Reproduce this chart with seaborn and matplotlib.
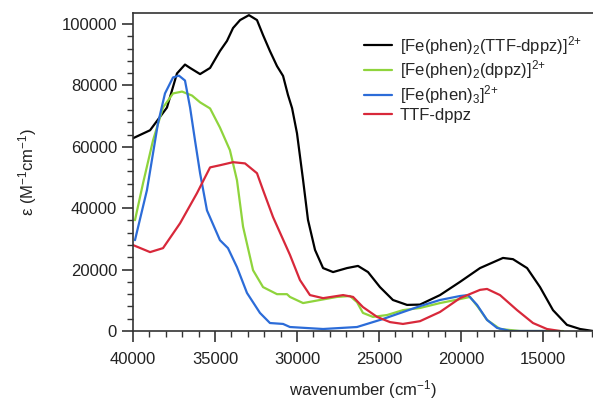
#UV-vis absorption spectra of the Fe(phen) complexes and TTF-dppz
import pandas as pd
import matplotlib
matplotlib.use('Agg')
import matplotlib.pyplot as plt
import seaborn as sns
from matplotlib.ticker import MultipleLocator

#values (wavenumber in cm-1, epsilon in M-1 cm-1)
black_x = [40000, 38960, 37930, 37320, 36830, 36520, 35910, 35300, 34700, 34270, 33900,
           33470, 32930, 32440, 32070, 31650, 31220, 30850, 30550, 30300, 30000, 29630,
           29330, 28900, 28410, 27800, 26950, 26280, 25670, 24940, 24150, 23290, 22500,
           21280, 20060, 18840, 17440, 16830, 15970, 15180, 14390, 13540, 12740, 11950]
black_y = [62800, 65400, 72800, 83900, 86800, 85700, 83700, 85700, 91200, 94500, 98700,
           101300, 102900, 101300, 96400, 91200, 86300, 83100, 76900, 72600, 64400, 49200,
           36200, 26400, 20500, 19200, 20500, 21200, 19200, 14300, 10100, 8500, 8600,
           11700, 16000, 20500, 23800, 23400, 20500, 14300, 6800, 2000, 650, 0]

green_x = [39880, 39390, 38780, 38170, 37560, 37010, 36400, 35910, 35300, 34700, 34090,
           33660, 33290, 32680, 32070, 31220, 30610, 30430, 29630, 28600, 27560, 26770,
           26340, 25980, 25370, 24510, 23540, 22500, 21280, 20060, 19450, 18960, 18410,
           17620, 16400, 13780]
green_y = [36100, 48100, 62100, 72800, 77400, 78000, 76700, 74500, 72500, 66300, 58900,
           49100, 34000, 19800, 14300, 12000, 12000, 11100, 9100, 10100, 11100, 11400,
           9400, 5900, 4600, 5200, 6800, 7500, 9100, 10400, 11100, 7800, 3600,
           650, 0, 0]

blue_x = [39880, 39150, 38480, 38050, 37560, 37200, 36830, 36520, 36220, 35910, 35490,
          34700, 34210, 33660, 33050, 32260, 31650, 30850, 30430, 28410, 26340, 24760,
          22500, 21280, 20060, 19570, 19020, 18410, 17800, 17010, 14880]
blue_y = [29600, 45900, 67600, 77400, 82600, 83200, 81600, 72800, 62100, 51400, 39300,
          29600, 27000, 20800, 12400, 5900, 2600, 2300, 1300, 650, 1300, 3900,
          8100, 10100, 11400, 11700, 8500, 3600, 1000, 0, 0]

red_x = [40000, 38960, 38170, 37130, 36100, 35300, 34700, 33900, 33170, 32440, 32070,
         31460, 30430, 29820, 29210, 28410, 27190, 26580, 25980, 25120, 24330, 23540,
         22500, 21280, 20060, 18840, 18410, 17620, 16580, 15610, 14760, 13960]
red_y = [28000, 25700, 27000, 35100, 44900, 53300, 54000, 55000, 54600, 51400, 45900,
         37100, 24800, 16600, 11700, 10700, 11700, 11100, 7800, 4600, 2900, 2300,
         3200, 6200, 10700, 13400, 13700, 11700, 6800, 2600, 650, 0]

labels = [r'[Fe(phen)$_2$(TTF-dppz)]$^{2{+}}$', r'[Fe(phen)$_2$(dppz)]$^{2{+}}$',
          r'[Fe(phen)$_3$]$^{2{+}}$', 'TTF-dppz']
colors = ['#000000', '#8fd43c', '#2c6cd8', '#d8283a']

#long form table for seaborn
df = pd.concat([
    pd.DataFrame({'x': black_x, 'y': black_y, 'series': labels[0]}),
    pd.DataFrame({'x': green_x, 'y': green_y, 'series': labels[1]}),
    pd.DataFrame({'x': blue_x, 'y': blue_y, 'series': labels[2]}),
    pd.DataFrame({'x': red_x, 'y': red_y, 'series': labels[3]}),
])

sns.set_style('white')
plt.rcParams['font.family'] = ['Liberation Sans', 'DejaVu Sans']
plt.rcParams['mathtext.fontset'] = 'custom'
plt.rcParams['mathtext.rm'] = 'Liberation Sans'
plt.rcParams['mathtext.it'] = 'Liberation Sans'

fig = plt.figure(figsize=(5.93, 4.0), dpi=100)
ax = fig.add_axes([0.2243, 0.1725, 0.7757, 0.795])
sns.lineplot(data=df, x='x', y='y', hue='series', palette=dict(zip(labels, colors)),
             sort=False, estimator=None, linewidth=1.6, ax=ax, legend=False)

ax.set_xlim(40000, 11950)
ax.set_ylim(0, 103600)
ax.xaxis.set_major_locator(MultipleLocator(5000))
ax.xaxis.set_minor_locator(MultipleLocator(1000))
ax.yaxis.set_major_locator(MultipleLocator(20000))
ax.yaxis.set_minor_locator(MultipleLocator(4000))
ax.tick_params(which='major', direction='out', length=8, width=1.2, labelsize=12,
               left=True, bottom=True, colors='#333333', labelcolor='#222222')
ax.tick_params(which='minor', direction='out', length=4, width=1.0,
               left=True, bottom=True, colors='#333333')
ax.tick_params(axis='x', which='major', pad=7)
for side in ['left', 'bottom', 'top']:
    ax.spines[side].set_color('#333333')
    ax.spines[side].set_linewidth(1.2)
ax.spines['right'].set_visible(False)

ax.set_xlabel(r'wavenumber (cm$^{-1}$)', fontsize=12, color='#222222', labelpad=8)
ax.set_ylabel(r'ε (M$^{-1}$cm$^{-1}$)', fontsize=12, color='#222222', labelpad=16)

#legend in the top right corner
handles = [plt.Line2D([], [], color=c, linewidth=1.6) for c in colors]
ax.legend(handles, labels, loc='upper left', bbox_to_anchor=(0.487, 0.955), frameon=False,
          fontsize=12, handlelength=1.7, handletextpad=0.45, labelspacing=0.1, borderaxespad=0)

fig.savefig('out.png', dpi=100)
